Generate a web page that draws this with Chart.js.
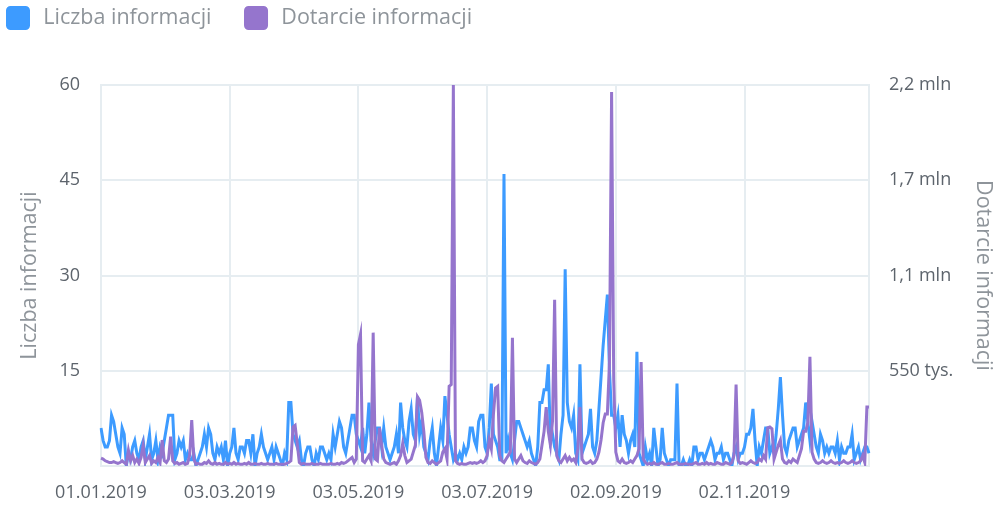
<!DOCTYPE html>
<html lang="pl">
<head>
<meta charset="utf-8">
<title>Liczba i dotarcie informacji</title>
<script src="https://cdn.jsdelivr.net/npm/chart.js@4.4.1/dist/chart.umd.min.js"></script>
<style>
  html, body { margin: 0; padding: 0; background: #fff; }
  #wrap { width: 996px; height: 507px; position: relative; }
</style>
</head>
<body>
<div id="wrap"><canvas id="infoChart"></canvas></div>
<script>
// daily values, 01.01.2019 - 31.12.2019 (one line per month)
const liczbaInformacji = [
  6,4,3,3,4,8,7,5,3,2, 6,5,0,2,1,3,4,2,1,3, 4,1,3,5,1,2,4,1,3,2, 4,
  6,8,8,8,1,2,4,3,4,1, 2,1,1,2,0,1,2,3,5,3, 6,5,2,1,3,2,3,1,
  4,0,2,3,6,2,1,3,3,2, 4,4,2,5,0,2,3,5,3,2, 1,2,3,1,3,2,1,0,2,1, 10,
  10,5,4,3,4,1,0,2,3,3, 1,0,2,1,3,3,2,1,2,1, 5,3,5,7,6,3,2,4,6,8,
  8,5,4,3,6,2,5,10,4,2, 4,6,6,3,6,3,2,1,2,3, 5,2,10,6,4,3,7,9,5,4, 11,
  5,7,3,2,1,4,6,2,0,3, 6,4,11,8,5,3,1,2,1,2, 1,3,2,3,6,6,4,3,7,8,
  8,3,2,6,13,5,4,3,1,1, 46,2,4,2,1,4,7,7,6,5, 4,3,4,2,1,0,3,10,10,12, 12,
  16,4,5,3,2,1,5,8,31,10, 7,6,8,2,1,16,2,3,4,5, 9,3,2,4,9,14,19,23,27,15, 8,
  8,6,8,3,8,5,4,2,4,5, 3,18,2,1,0,3,1,2,0,6, 3,0,1,6,2,1,0,1,1,1,
  13,0,0,1,0,0,1,0,3,3, 1,2,2,1,2,3,4,3,1,2, 2,3,1,2,2,1,0,2,3,1, 2,
  2,3,5,5,6,9,4,0,3,2, 4,6,6,2,3,2,5,9,14,8, 3,2,4,5,6,6,3,4,5,6,
  10,7,4,7,5,3,2,5,4,2, 3,2,3,3,2,4,1,3,2,2, 3,3,5,1,2,3,1,2,3,3, 2
];

// reach in thousands
const dotarcieTys = [
  45,40,30,25,20,20,25,20,15,20, 30,20,10,90,30,60,20,40,15,50, 120,20,40,60,15,30,20,50,20,150, 30,
  20,40,170,30,15,20,10,15,20,10, 15,60,265,40,10,15,10,10,20,15, 30,15,10,20,10,15,10,10,
  20,10,15,10,20,10,15,10,10,15, 10,20,10,10,15,10,10,15,10,10, 15,10,10,10,15,10,10,10,10,15, 20,
  30,225,235,130,20,10,15,10,10,10, 15,10,10,10,15,10,10,10,10,15, 10,10,15,10,20,15,20,30,40,50,
  20,40,700,760,30,20,40,60,30,770, 40,30,220,120,40,20,15,10,15,20, 10,30,60,130,60,20,30,40,80,120, 400,
  380,310,200,50,20,15,30,20,10,20, 30,80,100,40,460,470,2200,30,15,10, 15,10,10,15,20,15,20,15,20,30,
  20,30,60,150,100,300,450,460,60,30, 20,40,60,80,740,40,20,40,60,30, 20,15,30,20,15,10,20,40,120,200, 340,
  200,120,260,960,60,30,20,40,60,30, 50,30,40,20,100,340,40,20,15,20, 30,15,20,40,80,150,250,300,300,600, 2160,
  500,80,30,20,40,20,15,20,30,20, 40,60,100,600,40,20,10,15,10,20, 10,10,15,20,10,10,15,10,10,15,
  20,10,10,10,15,10,10,10,15,20, 10,10,15,10,20,10,15,10,10,20, 15,10,10,20,15,10,20,60,470,30, 15,
  20,15,10,20,30,20,15,20,40,30, 60,40,220,225,215,40,80,120,150,40, 20,15,30,20,40,30,20,60,100,200,
  200,250,630,80,40,20,15,20,30,20, 15,20,30,20,15,20,15,20,30,20, 15,20,30,20,15,20,30,60,20,340, 340
];

const leftTicks = [0, 15, 30, 45, 60];
const leftTickLabels = ['', '15', '30', '45', '60'];
const rightTicks = [0, 550, 1100, 1650, 2200];
const rightTickLabels = ['', '550 tys.', '1,1 mln', '1,7 mln', '2,2 mln'];
const labelEvery = 61; // days between date labels

const pad = n => (n < 10 ? '0' : '') + n;
const days = [];
for (let i = 0; i < liczbaInformacji.length; i++) {
  const d = new Date(2019, 0, 1 + i);
  days.push(pad(d.getDate()) + '.' + pad(d.getMonth() + 1) + '.' + d.getFullYear());
}

const gridColor = '#e6edf1';
const tickColor = '#5d646c';
const titleColor = '#8e949a';
Chart.defaults.font.family = '"Open Sans", Lato, sans-serif';

// legend sits in a tall band above the plot
const legendBand = {
  id: 'legendBand',
  beforeInit(chart) {
    const lg = chart.legend;
    if (!lg) return;
    const fit = lg.fit;
    lg.fit = function () { fit.call(this); this.height = 85; };
    const draw = lg.draw;
    lg.draw = function () {
      this.ctx.save();
      this.ctx.translate(-26.5, -26.5);
      draw.call(this);
      this.ctx.restore();
    };
  }
};

new Chart(document.getElementById('infoChart'), {
  type: 'line',
  data: {
    labels: days,
    datasets: [
      {
        label: 'Liczba informacji',
        data: liczbaInformacji,
        yAxisID: 'y',
        borderColor: '#3d9bff',
        backgroundColor: '#3d9bff',
        borderWidth: 3,
        order: 1
      },
      {
        label: 'Dotarcie informacji',
        data: dotarcieTys,
        yAxisID: 'y1',
        borderColor: '#9575cd',
        backgroundColor: '#9575cd',
        borderWidth: 3,
        order: 0
      }
    ]
  },
  options: {
    responsive: true,
    maintainAspectRatio: false,
    animation: false,
    layout: { padding: 0 },
    elements: { point: { radius: 0 }, line: { tension: 0 } },
    plugins: {
      tooltip: { enabled: false },
      legend: {
        position: 'top',
        align: 'start',
        labels: {
          boxWidth: 29,
          boxHeight: 29,
          useBorderRadius: true,
          borderRadius: 7,
          padding: 30,
          color: titleColor,
          font: { size: 21.5 },
          sort: (a, b) => a.datasetIndex - b.datasetIndex,
          generateLabels: (chart) => Chart.defaults.plugins.legend.labels.generateLabels(chart)
            .map(item => Object.assign(item, { strokeStyle: '#fff', lineWidth: 5 }))
        }
      }
    },
    scales: {
      x: {
        afterFit: s => { s.height = 41; },
        afterBuildTicks: s => { s.ticks = s.ticks.filter(t => t.value % labelEvery === 0); },
        grid: { color: gridColor, lineWidth: 2, drawTicks: false },
        border: { display: false },
        ticks: {
          autoSkip: false,
          maxRotation: 0,
          padding: 16,
          color: tickColor,
          font: { size: 18 }
        }
      },
      y: {
        position: 'left',
        min: 0,
        max: 60,
        afterFit: s => { s.width = 101; },
        afterBuildTicks: s => { s.ticks = leftTicks.map(v => ({ value: v })); },
        grid: { color: gridColor, lineWidth: 2, drawTicks: false },
        border: { display: true, color: gridColor, width: 2 },
        ticks: {
          padding: 21,
          color: tickColor,
          font: { size: 18 },
          callback: (v) => leftTickLabels[leftTicks.indexOf(v)]
        },
        title: {
          display: true,
          text: 'Liczba informacji',
          color: titleColor,
          font: { size: 21.5 },
          padding: { top: 17, bottom: 0 }
        }
      },
      y1: {
        position: 'right',
        min: 0,
        max: 2200,
        afterFit: s => { s.width = 127; },
        afterBuildTicks: s => { s.ticks = rightTicks.map(v => ({ value: v })); },
        grid: { display: false, drawTicks: false },
        border: { display: true, color: gridColor, width: 2 },
        ticks: {
          padding: 20,
          color: tickColor,
          font: { size: 18 },
          callback: (v) => rightTickLabels[rightTicks.indexOf(v)]
        },
        title: {
          display: true,
          text: 'Dotarcie informacji',
          color: titleColor,
          font: { size: 21.5 },
          padding: { top: 0, bottom: 0 }
        }
      }
    }
  },
  plugins: [legendBand]
});
</script>
</body>
</html>
